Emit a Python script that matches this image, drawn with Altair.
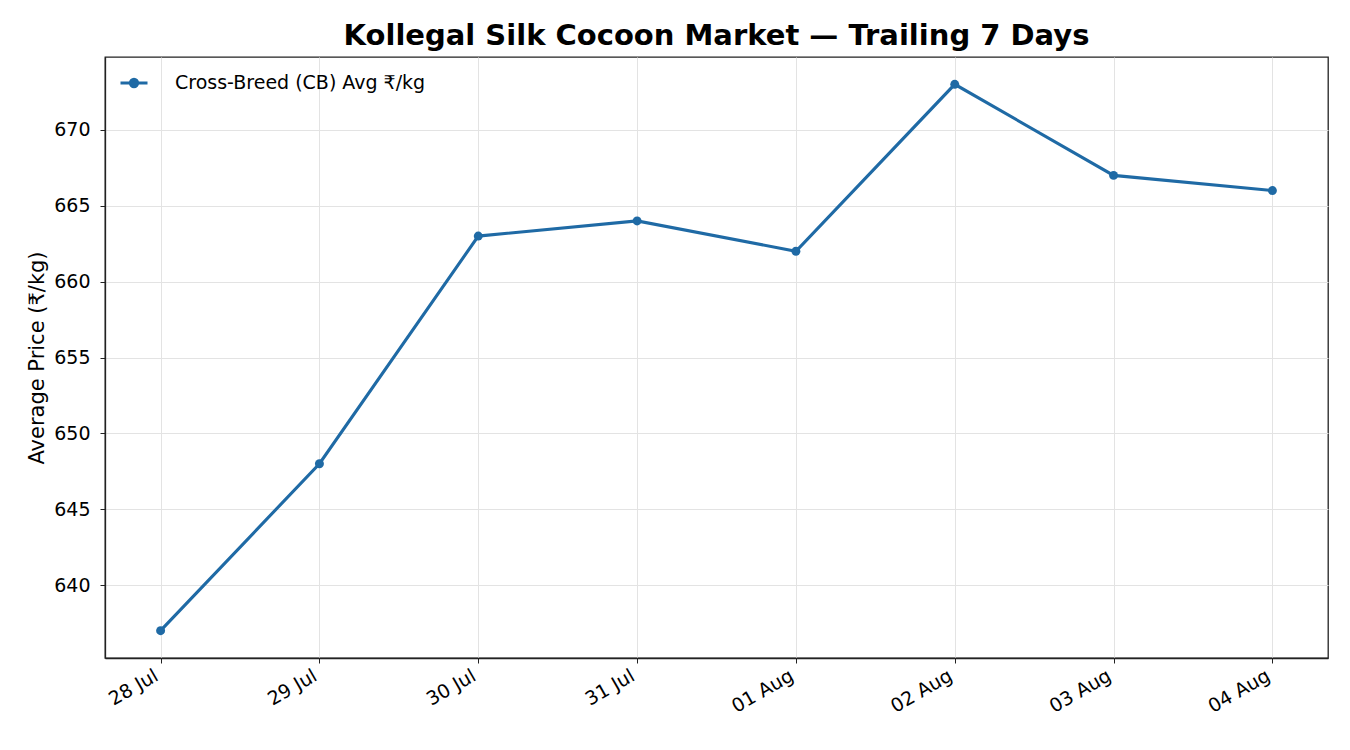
import altair as alt
import pandas as pd

dates = ["28 Jul", "29 Jul", "30 Jul", "31 Jul", "01 Aug", "02 Aug", "03 Aug", "04 Aug"]
prices = [637, 648, 663, 664, 662, 673, 667, 666]
series_name = "Cross-Breed (CB) Avg ₹/kg"

df = pd.DataFrame({"date": dates, "price": prices, "series": [series_name] * len(dates)})

color = "#1f6aa5"
font = "DejaVu Sans"

legend_symbol = "M-1,0H1M0.27,0A0.27,0.27 0 1,1 -0.27,0A0.27,0.27 0 1,1 0.27,0Z"

base = alt.Chart(df).encode(
    x=alt.X("date:N", sort=dates,
            scale=alt.Scale(type="point", padding=0.35),
            axis=alt.Axis(title=None, labelAngle=-30, labelAlign="right", labelBaseline="top",
                          labelFontSize=19, labelColor="#000", tickColor="#222", tickSize=5,
                          domainColor="#222", domainWidth=1.3, grid=True, gridColor="#e3e3e3",
                          labelPadding=3, labelOffset=-9)),
    y=alt.Y("price:Q", scale=alt.Scale(domain=[635.2, 674.8], nice=False, zero=False),
            axis=alt.Axis(title="Average Price (₹/kg)", titleFontSize=21, titleFontWeight="normal",
                          titleColor="#000", titlePadding=6,
                          values=[640, 645, 650, 655, 660, 665, 670],
                          labelFontSize=19, labelColor="#000", tickColor="#222", tickSize=5,
                          domainColor="#222", domainWidth=1.3, grid=True, gridColor="#e3e3e3",
                          labelPadding=10)),
    color=alt.Color("series:N", scale=alt.Scale(range=[color]),
                    legend=alt.Legend(title=None, orient="none", legendX=14, legendY=11,
                                      symbolType=legend_symbol, symbolSize=729,
                                      symbolStrokeWidth=3, symbolFillColor=color,
                                      symbolStrokeColor=color, labelFontSize=19,
                                      labelColor="#000", labelOffset=26, labelFont=font,
                                      labelLimit=0)),
)

line = base.mark_line(strokeWidth=3.1)
pts = base.mark_point(filled=True, size=80, opacity=1)

chart = (line + pts).properties(
    width=1223, height=601,
    title=alt.TitleParams("Kollegal Silk Cocoon Market — Trailing 7 Days", fontSize=29,
                          fontWeight="bold", font=font, anchor="middle", offset=6, color="#000"),
    autosize=alt.AutoSizeParams(type="none"),
    padding={"left": 97, "top": 49, "right": 14, "bottom": 84},
).configure(font=font).configure_view(stroke="#222", strokeWidth=1.3)

chart.save("out.html", embed_options={"renderer": "svg", "actions": False})
